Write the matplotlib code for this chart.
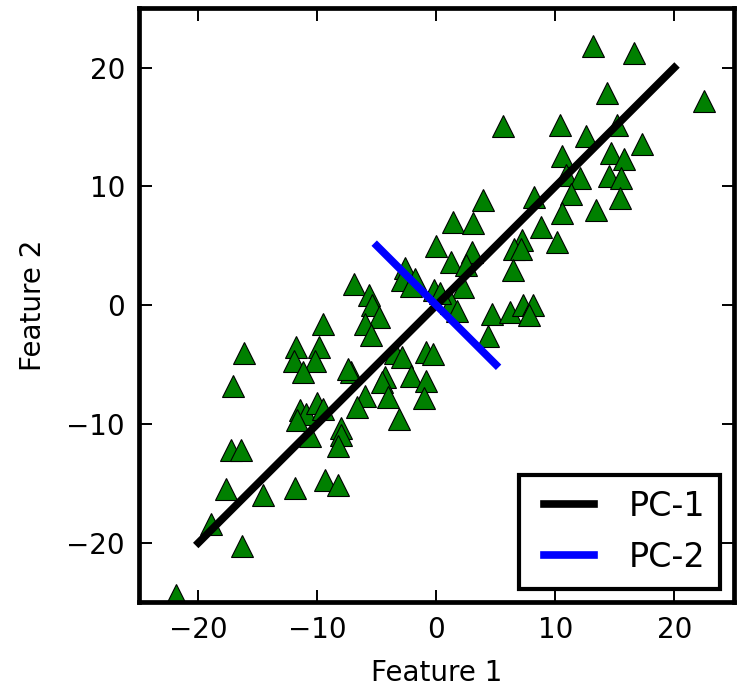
import matplotlib
matplotlib.use('Agg')
import matplotlib.pyplot as plt

# ---------------- data ----------------
feature1 = [13.2, 16.6, 14.3, 22.5, 5.6, 10.35, 12.6, 15.2, 17.3, 10.6,
            14.7, 15.8, 10.9, 12.1, 14.55, 15.5, 11.3, 15.4, 8.2, 3.9,
            10.6, 13.4, 1.4, 3.05, 8.8, 10.1, 7.2, 6.5, 7.1, 6.4,
            0.0, 1.26, 3.0, 2.5, 2.2, 1.26, 1.7, -0.2, 0.3,
            4.7, 6.2, 7.25, 8.1, 7.8, 4.3,
            -2.65, -1.8, -2.9, -2.1, -6.9, -5.65, -5.45, -4.8, -6.0, -5.5,
            -9.5, -11.8, -9.9, -12.0, -10.2, -11.2, -16.2, -17.1, -7.2, -7.45,
            -3.5, -2.9, -0.9, -0.3, -2.1, -0.85, -1.0, -4.3, -4.6, -4.05,
            -3.1, -6.0, -6.65, -11.45, -10.95, -10.05, -9.5, -11.75, -10.65, -8.0,
            -8.05, -8.25, -17.3, -16.4, -17.65, -14.6, -11.9, -9.4, -8.25, -18.95,
            -16.35, -21.9]
feature2 = [21.8, 21.2, 17.9, 17.2, 15.1, 15.2, 14.25, 15.2, 13.55, 12.6,
            12.85, 12.3, 11.0, 10.7, 10.9, 10.7, 9.4, 9.0, 9.1, 8.9,
            7.75, 8.0, 7.0, 6.9, 6.6, 5.3, 5.5, 4.75, 4.7, 3.0,
            5.0, 3.6, 4.5, 3.4, 1.5, 0.15, -0.45, 1.25, 1.0,
            -0.7, -0.55, 0.0, 0.0, -0.8, -2.6,
            3.1, 2.2, 2.1, 1.6, 1.8, 0.85, 0.05, -0.95, -1.55, -2.5,
            -1.6, -3.5, -3.5, -4.7, -4.7, -5.6, -4.0, -6.8, -5.6, -5.35,
            -4.0, -4.4, -3.9, -4.1, -5.95, -6.4, -7.8, -6.05, -6.5, -7.7,
            -9.6, -7.6, -8.6, -8.85, -9.15, -8.25, -8.7, -9.7, -11.0, -10.35,
            -10.9, -11.85, -12.15, -12.15, -15.5, -16.0, -15.4, -14.7, -15.1, -18.4,
            -20.25, -24.4]

pc1_x = [-20, 20]
pc1_y = [-20, 20]
pc2_x = [-5, 5]
pc2_y = [5, -5]

ticks = [-20, -10, 0, 10, 20]

# ---------------- plot ----------------
fig = plt.figure(figsize=(7.39, 6.89), dpi=100)
ax = fig.add_axes([0.188, 0.126, 0.805, 0.862])

ax.plot(feature1, feature2, '^', color='#008000', mec='k', mew=0.8, ms=15.5)
ax.plot(pc1_x, pc1_y, '-', color='k', lw=5.5, label='PC-1')
ax.plot(pc2_x, pc2_y, '-', color='#0000ff', lw=5.5, label='PC-2')

ax.set_xlim(-25, 25)
ax.set_ylim(-25, 25)
ax.set_xticks(ticks)
ax.set_yticks(ticks)
ax.tick_params(direction='in', top=True, right=True, length=9, width=1.4,
               labelsize=20, pad=10)
for s in ax.spines.values():
    s.set_linewidth(3.4)

ax.set_xlabel('Feature 1', fontsize=20, labelpad=11)
ax.set_ylabel('Feature 2', fontsize=20, labelpad=14)

# legend line with two points, so it is inset from the handle box
leg = ax.legend(loc='lower right', fontsize=24, fancybox=False, numpoints=2,
                framealpha=1, edgecolor='k', handlelength=2.1,
                handletextpad=0.75, borderpad=0.45, labelspacing=0.55,
                borderaxespad=0.4)
leg.get_frame().set_linewidth(3)

fig.savefig('out.png', dpi=100)
